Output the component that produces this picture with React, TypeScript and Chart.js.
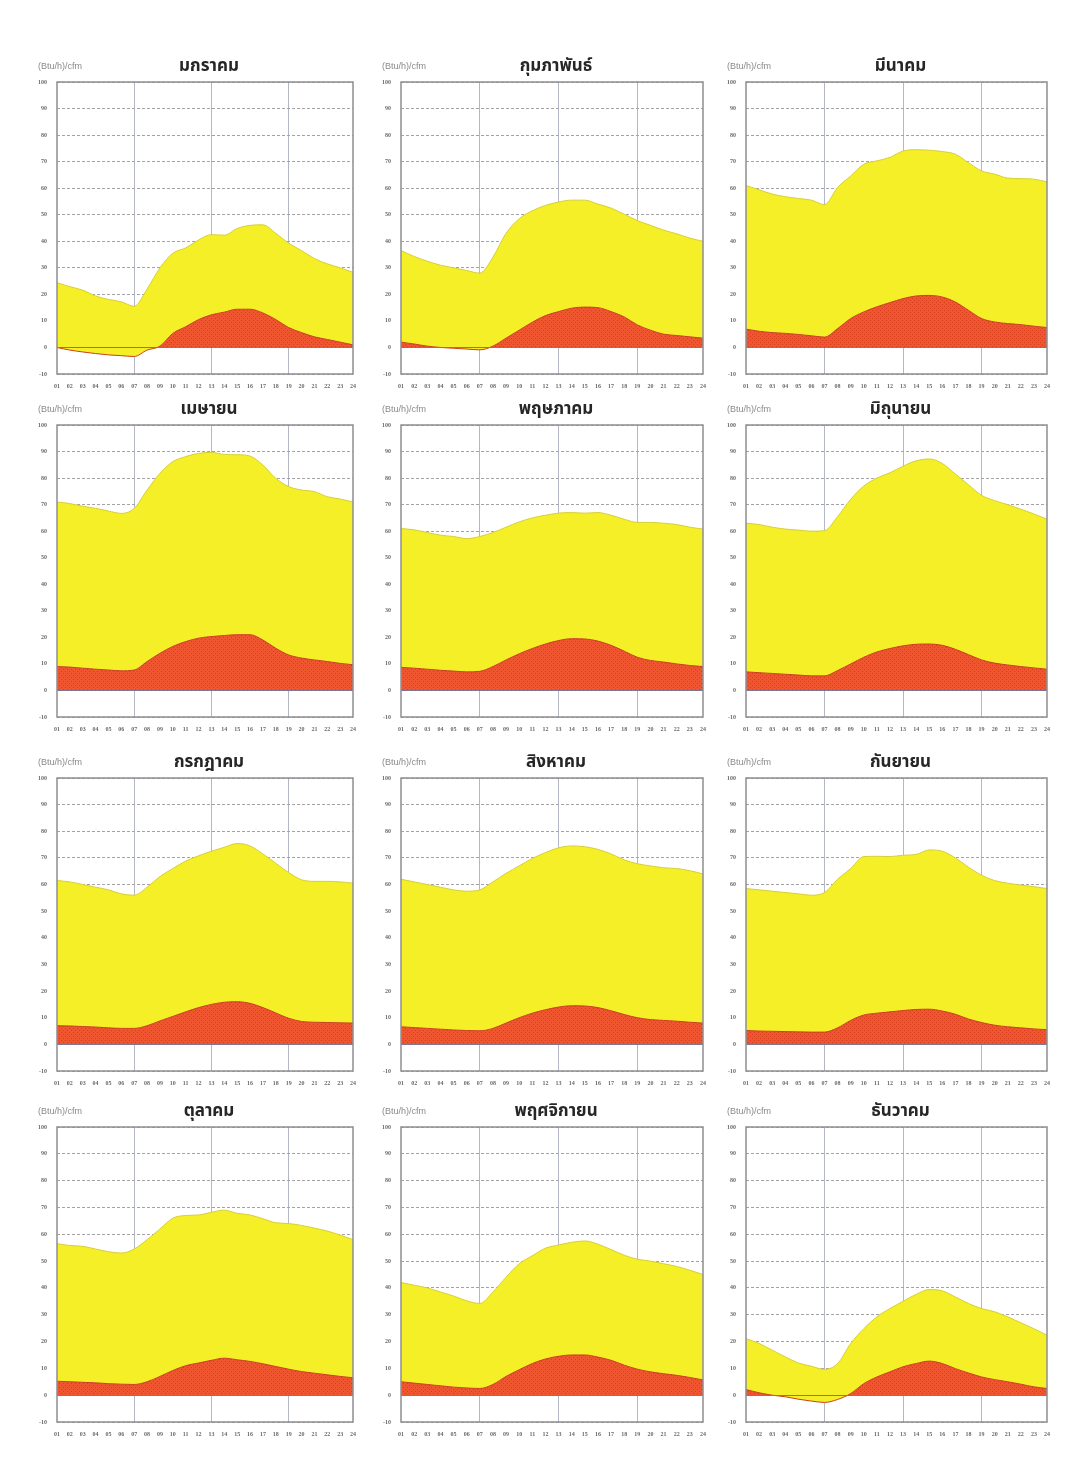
import React, { useEffect, useRef } from "react";
import { Chart, registerables } from "chart.js";

Chart.register(...registerables);

// Hour-of-day categories along the x axis
const hours = [
  "01", "02", "03", "04", "05", "06", "07", "08", "09", "10", "11", "12",
  "13", "14", "15", "16", "17", "18", "19", "20", "21", "22", "23", "24",
];

const monthNames = [
  "มกราคม", "กุมภาพันธ์", "มีนาคม", "เมษายน", "พฤษภาคม", "มิถุนายน",
  "กรกฎาคม", "สิงหาคม", "กันยายน", "ตุลาคม", "พฤศจิกายน", "ธันวาคม",
];

const unitLabel = "(Btu/h)/cfm";

// Total load per cfm (yellow) and sensible load per cfm (red), hourly
const janTotal = [24.4, 22.9, 21.6, 19.4, 18.1, 17.2, 15.5, 22, 30, 35.5, 37.5, 40.5, 42.5, 42.3, 44.8, 46, 46.2, 43, 39.3, 36.5, 33.5, 31.5, 30, 28.3];
const janSensible = [0, -1, -1.7, -2.3, -2.8, -3.1, -3.4, -1, 0.5, 5.3, 7.8, 10.5, 12.3, 13.3, 14.4, 14.4, 13, 10.5, 7.5, 5.6, 4, 3, 2, 1];

const febTotal = [36.5, 34.3, 32.5, 31, 30, 29, 28, 34, 43, 48.5, 51.5, 53.5, 54.8, 55.5, 55.5, 54, 52.5, 50.2, 47.8, 46, 44.2, 42.8, 41.2, 40];
const febSensible = [2, 1.3, 0.5, 0, -0.3, -0.6, -0.9, 0.5, 3.5, 6.5, 9.5, 12, 13.5, 14.8, 15.2, 15, 13.5, 11.5, 8.5, 6.5, 5, 4.5, 4, 3.5];

const marTotal = [61, 59.4, 57.8, 56.8, 56.1, 55.5, 53.8, 60.3, 64.6, 69, 70.3, 71.6, 74, 74.5, 74.3, 73.8, 72.8, 69.6, 66.5, 65.3, 63.8, 63.6, 63.4, 62.4];
const marSensible = [6.9, 6.1, 5.6, 5.3, 4.9, 4.4, 3.9, 7.1, 10.9, 13.4, 15.3, 16.9, 18.4, 19.4, 19.6, 19, 17.1, 14, 10.9, 9.6, 9, 8.6, 8, 7.5];

const aprTotal = [71, 70.4, 69.4, 68.6, 67.6, 66.7, 68.6, 75.5, 81.8, 86.2, 88.1, 89.3, 89.7, 88.9, 88.8, 88.3, 84.9, 79.9, 76.8, 75.5, 74.9, 73, 72.1, 71];
const aprSensible = [9, 8.8, 8.4, 8, 7.7, 7.4, 7.7, 10.9, 14, 16.6, 18.4, 19.7, 20.3, 20.7, 21, 21, 19, 15.9, 13.4, 12.2, 11.5, 10.9, 10.2, 9.7];

const mayTotal = [61, 60.5, 59.5, 58.5, 58, 57.2, 58, 59.5, 61.5, 63.5, 65, 66, 66.8, 67, 66.8, 67, 66, 64.5, 63.3, 63.3, 63, 62.5, 61.5, 60.8];
const maySensible = [8.7, 8.4, 8, 7.6, 7.3, 7, 7.2, 9, 11.5, 13.8, 15.8, 17.5, 18.8, 19.5, 19.4, 18.6, 17, 14.8, 12.5, 11.3, 10.7, 10, 9.4, 9];

const junTotal = [63, 62.5, 61.5, 60.8, 60.4, 60, 60.2, 65.5, 72, 77, 80, 82, 84.5, 86.5, 87.2, 85.5, 81.5, 77.5, 73.5, 71.5, 70, 68.3, 66.5, 64.5];
const junSensible = [7, 6.7, 6.4, 6.1, 5.8, 5.5, 5.5, 7.5, 10, 12.5, 14.5, 15.8, 16.8, 17.4, 17.5, 17, 15.5, 13.5, 11.5, 10.3, 9.6, 9, 8.5, 8];

const julTotal = [61.5, 61, 60, 59, 58, 56.5, 56, 59, 63, 66, 68.8, 70.8, 72.5, 74, 75.4, 74.5, 71.5, 68, 64.5, 61.8, 61.2, 61.2, 61, 60.5];
const julSensible = [7, 6.9, 6.7, 6.5, 6.2, 6, 6, 7, 8.8, 10.5, 12.2, 13.8, 15, 15.8, 16, 15.4, 13.8, 11.8, 9.8, 8.6, 8.3, 8.2, 8.1, 8];

const augTotal = [62, 61, 60, 59, 58, 57.5, 58, 61, 64.2, 67, 69.8, 72, 73.8, 74.5, 74.2, 73.2, 71.5, 69.3, 67.8, 67, 66.3, 66, 65.2, 64];
const augSensible = [6.6, 6.3, 6, 5.7, 5.4, 5.2, 5.1, 6, 8, 10, 11.7, 13, 14, 14.5, 14.4, 13.8, 12.6, 11.2, 10, 9.3, 9, 8.7, 8.3, 8];

const sepTotal = [58.5, 58, 57.5, 57, 56.5, 56, 57, 62, 66, 70.5, 70.6, 70.5, 71, 71.3, 73, 72.5, 70, 66.5, 63.5, 61.5, 60.5, 59.8, 59.2, 58.5];
const sepSensible = [5.2, 5, 4.9, 4.8, 4.7, 4.6, 4.6, 6.2, 9, 11, 11.7, 12.2, 12.7, 13.1, 13.2, 12.5, 11.3, 9.5, 8.2, 7.2, 6.6, 6.2, 5.8, 5.5];

const octTotal = [56.5, 55.8, 55.5, 54.5, 53.5, 53, 54.5, 58, 62, 66, 67, 67.2, 68.2, 69, 67.8, 67.2, 65.8, 64.3, 64, 63.3, 62.3, 61.2, 59.7, 58];
const octSensible = [5.2, 5, 4.8, 4.6, 4.3, 4.1, 4, 5, 7, 9.2, 11, 12, 13, 13.8, 13.2, 12.6, 11.7, 10.7, 9.7, 8.8, 8.2, 7.6, 7, 6.5];

const novTotal = [42, 41, 40, 38.5, 37, 35.2, 34.2, 38.5, 44, 49, 52, 54.8, 56, 57, 57.5, 56.3, 54.3, 52.2, 50.7, 50, 49, 48, 46.6, 45];
const novSensible = [5, 4.5, 4, 3.5, 3, 2.7, 2.5, 4, 7, 9.5, 11.8, 13.5, 14.5, 15, 15, 14.2, 13, 11.2, 9.7, 8.7, 8, 7.4, 6.6, 5.7];

const decTotal = [21.1, 19.3, 16.8, 14.3, 12, 10.8, 9.6, 11.8, 19.3, 24.8, 29.2, 32.3, 35, 37.6, 39.4, 38.9, 36.6, 34.2, 32.3, 31.1, 29.2, 27, 24.8, 22.4];
const decSensible = [2.1, 0.9, 0, -0.6, -1.5, -2.2, -2.7, -1.6, 0.6, 4.3, 6.8, 8.7, 10.6, 11.8, 12.7, 11.8, 9.9, 8.3, 6.8, 5.8, 5, 4.1, 3.1, 2.5];

const totals = [janTotal, febTotal, marTotal, aprTotal, mayTotal, junTotal, julTotal, augTotal, sepTotal, octTotal, novTotal, decTotal];
const sensibles = [janSensible, febSensible, marSensible, aprSensible, maySensible, junSensible, julSensible, augSensible, sepSensible, octSensible, novSensible, decSensible];

// Page layout of the 3 x 4 grid of plots (plot-area boxes)
const COL_LEFT = [57, 401, 746];
const COL_WIDTH = [296, 302, 301];
const ROW_TOP = [82, 425, 778, 1127];
const ROW_HEIGHT = [292, 292, 293, 295];

const PAD_LEFT = 52;
const PAD_TOP = 42;
const PAD_RIGHT = 16;
const AXIS_BOTTOM = 26;

const YELLOW = "#f4ef26";
const YELLOW_EDGE = "#d8ce36";
const RED = "#ef5630";
const RED_DOT = "#d63e1e";
const RED_EDGE = "#c9401f";

function makeDotPattern(): CanvasPattern | string {
  const c = document.createElement("canvas");
  c.width = 4;
  c.height = 4;
  const g = c.getContext("2d");
  if (!g) return RED;
  g.fillStyle = RED;
  g.fillRect(0, 0, 4, 4);
  g.fillStyle = RED_DOT;
  g.fillRect(0, 0, 1, 1);
  g.fillRect(2, 2, 1, 1);
  const p = g.createPattern(c, "repeat");
  return p || RED;
}

const tickFont = { family: "'Liberation Serif', 'DejaVu Serif', serif", size: 6, weight: "bold" as const };

function Panel({ index }: { index: number }) {
  const ref = useRef<HTMLCanvasElement | null>(null);
  const col = index % 3;
  const row = Math.floor(index / 3);
  const plotW = COL_WIDTH[col];
  const plotH = ROW_HEIGHT[row];
  const width = PAD_LEFT + plotW + PAD_RIGHT;
  const height = PAD_TOP + plotH + AXIS_BOTTOM;

  useEffect(() => {
    if (!ref.current) return;
    const title = monthNames[index];

    const decorations = {
      id: "panelDecor",
      afterDatasetsDraw(chart: any) {
        const { ctx, chartArea } = chart;
        const yScale = chart.scales.y;
        ctx.save();
        // zero reference line
        const y0 = Math.round(yScale.getPixelForValue(0)) + 0.5;
        ctx.strokeStyle = "#7f7696";
        ctx.lineWidth = 1;
        ctx.beginPath();
        ctx.moveTo(chartArea.left, y0);
        ctx.lineTo(chartArea.right, y0);
        ctx.stroke();
        // plot frame
        ctx.strokeStyle = "#8e8e92";
        ctx.lineWidth = 1.5;
        ctx.strokeRect(chartArea.left, chartArea.top, chartArea.right - chartArea.left, chartArea.bottom - chartArea.top);
        ctx.restore();
      },
      afterDraw(chart: any) {
        const { ctx, chartArea } = chart;
        ctx.save();
        ctx.fillStyle = "#262626";
        ctx.font = "bold 17px 'Noto Sans Thai', 'Noto Sans Thai UI', Loma, Garuda, Norasi, 'Tlwg Typo', sans-serif";
        ctx.textAlign = "center";
        ctx.textBaseline = "middle";
        ctx.fillText(title, (chartArea.left + chartArea.right) / 2 + 4, chartArea.top - 14);
        ctx.fillStyle = "#8a8a8a";
        ctx.font = "9px 'Liberation Sans', Arial, sans-serif";
        ctx.textAlign = "left";
        ctx.fillText(unitLabel, chartArea.left - 19, chartArea.top - 15);
        ctx.restore();
      },
    };

    const chart = new Chart(ref.current, {
      type: "line",
      data: {
        labels: hours,
        datasets: [
          {
            label: "sensible",
            data: sensibles[index],
            borderColor: RED_EDGE,
            borderWidth: 1,
            pointRadius: 0,
            cubicInterpolationMode: "monotone",
            fill: { target: "origin", above: makeDotPattern(), below: "rgba(0,0,0,0)" },
          },
          {
            label: "total",
            data: totals[index],
            borderColor: YELLOW_EDGE,
            backgroundColor: YELLOW,
            borderWidth: 1,
            pointRadius: 0,
            cubicInterpolationMode: "monotone",
            fill: "-1",
          },
        ],
      },
      options: {
        responsive: false,
        animation: false,
        devicePixelRatio: 1,
        layout: { padding: { left: 0, top: PAD_TOP, right: PAD_RIGHT, bottom: 0 } },
        plugins: { legend: { display: false }, tooltip: { enabled: false }, title: { display: false } },
        scales: {
          x: {
            type: "category",
            offset: false,
            border: { display: false },
            grid: {
              drawTicks: false,
              lineWidth: 1,
              color: (ctx: any) => ([6, 12, 18].includes(ctx.index) ? "#b3b7c6" : "rgba(0,0,0,0)"),
            },
            ticks: { autoSkip: false, maxRotation: 0, minRotation: 0, padding: 9, color: "#6a6a6a", font: tickFont },
            afterFit: (scale: any) => {
              scale.height = AXIS_BOTTOM;
            },
          },
          y: {
            min: -10,
            max: 100,
            border: { display: false, dash: [3, 2] },
            grid: {
              drawTicks: false,
              lineWidth: 1,
              color: (ctx: any) => (ctx.tick && ctx.tick.value === 0 ? "rgba(0,0,0,0)" : "#a2a2a8"),
            },
            ticks: { stepSize: 10, padding: 10, color: "#6a6a6a", font: tickFont },
            afterFit: (scale: any) => {
              scale.width = PAD_LEFT;
            },
          },
        },
      },
      plugins: [decorations],
    } as any);

    return () => chart.destroy();
  }, [index]);

  return (
    <canvas
      ref={ref}
      width={width}
      height={height}
      style={{
        position: "absolute",
        left: COL_LEFT[col] - PAD_LEFT,
        top: ROW_TOP[row] - PAD_TOP,
        width,
        height,
      }}
    />
  );
}

export default function App() {
  return (
    <div
      style={{
        position: "absolute",
        left: 0,
        top: 0,
        width: 1085,
        height: 1477,
        background: "#ffffff",
        overflow: "hidden",
      }}
    >
      {monthNames.map((_, i) => (
        <Panel key={i} index={i} />
      ))}
    </div>
  );
}
